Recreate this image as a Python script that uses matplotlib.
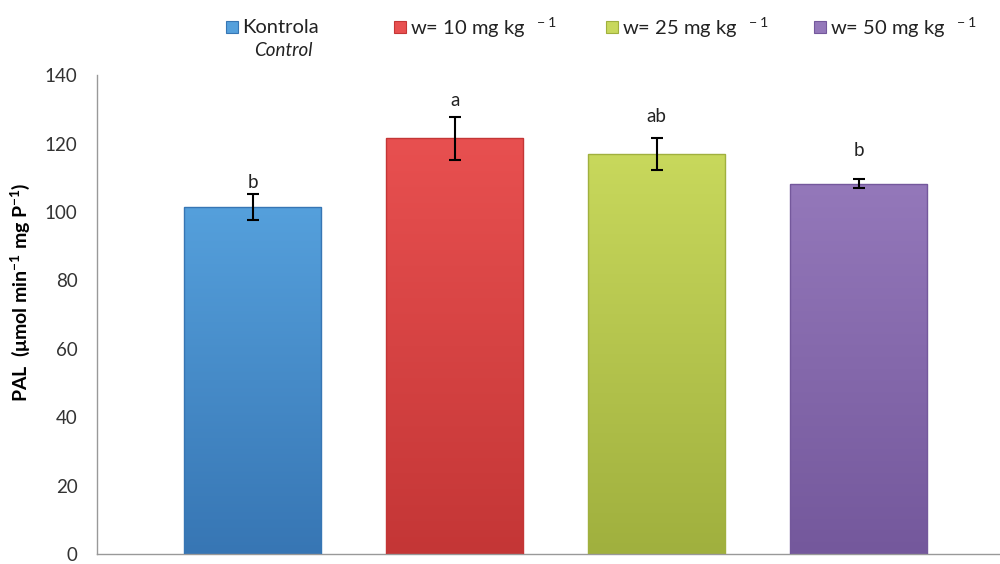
import matplotlib
matplotlib.use("Agg")
import matplotlib.pyplot as plt
import numpy as np
from matplotlib.colors import LinearSegmentedColormap
from matplotlib.patches import Rectangle

categories = ["Kontrola", "w= 10 mg kg", "w= 25 mg kg", "w= 50 mg kg"]
legend_labels = ["Kontrola", "w= 10 mg kg $^{\\ -1}$", "w= 25 mg kg $^{\\ -1}$", "w= 50 mg kg $^{\\ -1}$"]
values = [101.5, 121.5, 117.0, 108.3]
errors = [3.8, 6.3, 4.7, 1.3]
letters = ["b", "a", "ab", "b"]
letter_y = [108.5, 132.5, 128.0, 118.0]
top_colors = ["#55A0DC", "#E85050", "#C8D85C", "#9478BA"]
bottom_colors = ["#3776B4", "#C43636", "#A0B03E", "#74589C"]
yticks = [0, 20, 40, 60, 80, 100, 120, 140]

plt.rcParams['font.family'] = ['Lato', 'DejaVu Sans']
plt.rcParams['mathtext.fontset'] = 'custom'
plt.rcParams['mathtext.rm'] = 'Lato'
plt.rcParams['mathtext.bf'] = 'Lato:bold'
plt.rcParams['mathtext.default'] = 'regular'

fig = plt.figure(figsize=(10, 5.64), dpi=100)
ax = fig.add_axes([0.097, 0.0177, 0.903, 0.849])

x = np.arange(len(categories))
bars = ax.bar(x, values, width=0.68, color=top_colors, edgecolor="none", zorder=2)
for b, ct, cb in zip(bars, top_colors, bottom_colors):
    cmap = LinearSegmentedColormap.from_list("g", [cb, ct])
    grad = np.linspace(0, 1, 256).reshape(-1, 1)
    bx, by = b.get_x(), b.get_y()
    w, h = b.get_width(), b.get_height()
    im = ax.imshow(grad, cmap=cmap, aspect="auto", origin="lower",
                   extent=(bx, bx + w, by, by + h), zorder=2.5)
    im.set_clip_path(b)
    ax.add_patch(Rectangle((bx, by), w, h, fill=False, edgecolor=cb, lw=1.0, zorder=2.6))

ax.errorbar(x, values, yerr=errors, fmt="none", ecolor="black", elinewidth=1.5,
            capsize=4, capthick=1.5, zorder=3)
for xi, lt, ly in zip(x, letters, letter_y):
    ax.text(xi, ly, lt, ha="center", va="center", fontsize=13.5, color="#222222", zorder=4)

ax.set_xlim(-0.77, 3.7)
ax.set_ylim(0, 140)
ax.set_yticks(yticks)
ax.set_xticks([])
ax.tick_params(axis="y", length=0, labelsize=13.5, pad=14, colors="#333333")
for s in ["top", "right"]:
    ax.spines[s].set_visible(False)
for s in ["left", "bottom"]:
    ax.spines[s].set_color("#999999")
    ax.spines[s].set_linewidth(1.0)
ax.set_ylabel("PAL  (μmol min$^{-1}$ mg P$^{-1}$)", fontsize=14, fontweight="bold")
ax.yaxis.set_label_coords(-0.072, 0.547)

# legend
marker_x = [0.232, 0.400, 0.612, 0.820]
for mx, lab, ct, cb in zip(marker_x, legend_labels, top_colors, bottom_colors):
    fig.patches.append(Rectangle((mx - 0.006, 0.941), 0.012, 0.021, transform=fig.transFigure,
                                 facecolor=ct, edgecolor=cb, lw=0.8))
    fig.text(mx + 0.01, 0.951, lab, ha="left", va="center", fontsize=14.5, color="#222222")
fig.text(0.283, 0.910, "Control", ha="center", va="center", fontsize=13.5, style="italic", color="#222222")

fig.savefig("out.png", dpi=100)
